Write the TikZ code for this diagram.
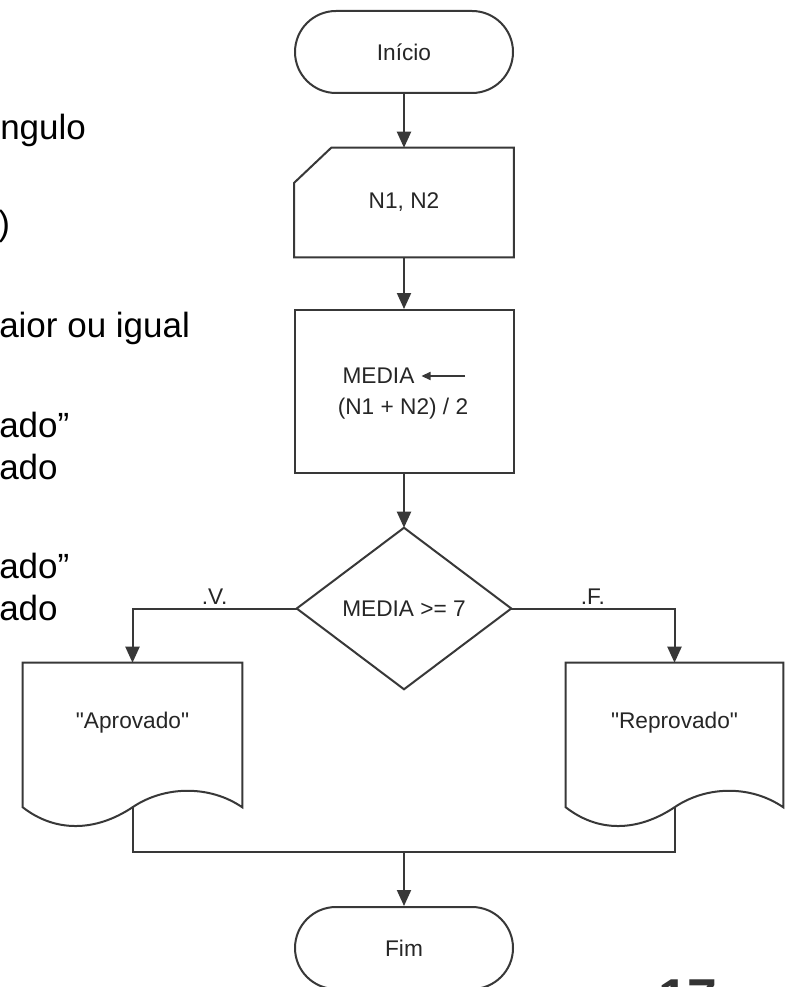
\documentclass[tikz,border=0pt]{standalone}
\usepackage{fontspec}
\setmainfont{Liberation Sans}
\newfontfamily\arialf{Liberation Sans}
\usetikzlibrary{arrows.meta,calc,shapes.misc}
\begin{document}
\begin{tikzpicture}[x=0.75pt,y=-0.75pt,
  line/.style={draw=black!78, line width=1.5pt},
  arr/.style={line, -{Triangle[length=12pt,width=10.5pt]}},
  fc/.style={font=\arialf\fontsize{17}{20}\selectfont, text=black!85},
  terminal/.style={fc, line, rounded rectangle, minimum width=163.5pt, minimum height=61.5pt, inner sep=0pt},
  box/.style={fc, minimum width=164.25pt, inner sep=0pt},
  side/.style={font=\fontsize{26.25}{30}\selectfont, anchor=base west, inner sep=0pt},
  lbl/.style={fc, inner sep=2pt}]

\useasboundingbox (0,0) rectangle (785,987);
\fill[white] (0,0) rectangle (785,987);

% left text fragments
\node[side] (t1) at (0,140) {ngulo};
\node[side] (t2) at (-2,236) {)};
\node[side] (t3) at (-1,337) {aior ou igual};
\node[side] (t4) at (-1,437) {ado”};
\node[side] (t5) at (-1,479) {ado};
\node[side] (t6) at (-1,578) {ado”};
\node[side] (t7) at (-1,620) {ado};

% flowchart
\node[terminal] (inicio) at (404,52) {Início};

\node[box, minimum height=81.75pt] (input) at (404,202.5) {N1, N2};
\draw[line] ($(input.north west)+(37,0)$) -- (input.north east) -- (input.south east)
  -- (input.south west) -- ($(input.north west)+(0,35)$) -- cycle;

\node[box, line, minimum height=122.25pt] (proc) at (404,391.5) {};
\node[fc, inner sep=0pt, anchor=base] (media1) at (378.5,383) {MEDIA};
\coordinate (atail) at (465,376);
\draw[line, -{Triangle[length=7pt,width=6pt]}] (atail) -- ([xshift=5pt]media1.east |- atail);
\node[fc, inner sep=0pt, anchor=base] (media2) at (403,414) {(N1 + N2) / 2};

\node[fc, minimum width=160.5pt, minimum height=120.75pt, inner sep=0pt] (dec) at (404,608.5) {MEDIA >= 7};
\draw[line] (dec.north) -- (dec.east) -- (dec.south) -- (dec.west) -- cycle;

\node[box, minimum height=90pt] (aprov) at (132.5,723) {"Aprovado"};
\draw[line] (aprov.north east) -- (aprov.north west) -- ($(aprov.south west)+(0,24)$)
  .. controls +(32,25) and +(-37.5,25) .. ($(aprov.south)+(0,24)$)
  .. controls +(32.5,-22) and +(-32,-22) .. ($(aprov.south east)+(0,24)$) -- cycle;

\node[box, minimum width=162.75pt, minimum height=90pt] (reprov) at (674.5,723) {"Reprovado"};
\draw[line] (reprov.north east) -- (reprov.north west) -- ($(reprov.south west)+(0,24)$)
  .. controls +(32,25) and +(-37.5,25) .. ($(reprov.south)+(0,24)$)
  .. controls +(32.5,-22) and +(-32,-22) .. ($(reprov.south east)+(0,24)$) -- cycle;

\node[terminal] (fim) at (404,948) {Fim};

% connectors
\draw[arr] (inicio.south) -- (input.north);
\draw[arr] (input.south) -- (proc.north);
\draw[arr] (proc.south) -- (dec.north);
\draw[arr] (dec.west) -| node[pos=0.25, above, lbl] {.V.} (aprov.north);
\draw[arr] (dec.east) -| node[pos=0.25, above, lbl] {.F.} (reprov.north);

\coordinate (aM) at ($(aprov.south)+(0,24)$);
\coordinate (rM) at ($(reprov.south)+(0,24)$);
\coordinate (join) at (404,852);
\draw[line] (aM) |- (join) -| (rM);
\draw[arr] (join) -- (fim.north);

% page number
\node[font=\fontsize{40}{48}\selectfont\bfseries, text=black!80, anchor=base west, inner sep=0pt] (page) at (658,1016) {17};
\end{tikzpicture}
\end{document}
